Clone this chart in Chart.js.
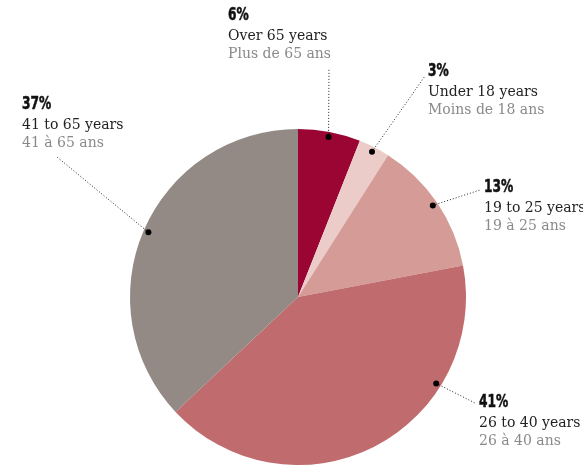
<!DOCTYPE html>
<html>
<head>
<meta charset="utf-8">
<script src="https://cdn.jsdelivr.net/npm/chart.js@4.4.1/dist/chart.umd.min.js"></script>
<style>
  html, body { margin: 0; padding: 0; background: #ffffff; }
  #wrap { width: 583px; height: 467px; position: relative; }
</style>
</head>
<body>
<div id="wrap"><canvas id="pieChart" width="583" height="467"></canvas></div>
<script>
// data
var groups_en = ["Over 65 years", "Under 18 years", "19 to 25 years", "26 to 40 years", "41 to 65 years"];
var groups_fr = ["Plus de 65 ans", "Moins de 18 ans", "19 à 25 ans", "26 à 40 ans", "41 à 65 ans"];
var shares = [6, 3, 13, 41, 37];

// style
var sliceColors = ["#9b0533", "#ecccc8", "#d59b96", "#c06b6d", "#938a85"];
// where the dot sits inside each slice (fraction of its angle) and label layout
var dotFraction = [0.5, 0.5, 0.5, 0.29, 0.5];
var labelBox = [
    {x: 228, y: 16, lx: 329, ly: 68},
    {x: 428, y: 72, lx: 425, ly: 76},
    {x: 484, y: 188, lx: 480, ly: 190},
    {x: 479, y: 403, lx: 475, ly: 403},
    {x: 22, y: 105, lx: 57, ly: 157}
];

var calloutPlugin = {
    id: 'callouts',
    afterDraw: function(chart) {
        var ctx = chart.ctx;
        var arcs = chart.getDatasetMeta(0).data;
        arcs.forEach(function(arc, i) {
            var p = arc.getProps(['x', 'y', 'startAngle', 'endAngle', 'outerRadius'], true);
            var a = p.startAngle + (p.endAngle - p.startAngle) * dotFraction[i];
            var r = p.outerRadius - 5;
            var dx = p.x + Math.cos(a) * r;
            var dy = p.y + Math.sin(a) * r;
            var box = labelBox[i];

            ctx.save();
            ctx.strokeStyle = "#222";
            ctx.lineWidth = 1;
            ctx.setLineDash([1, 2]);
            ctx.beginPath();
            ctx.moveTo(dx, dy);
            ctx.lineTo(box.lx, box.ly);
            ctx.stroke();
            ctx.setLineDash([]);
            ctx.fillStyle = "#000";
            ctx.beginPath();
            ctx.arc(dx, dy, 3, 0, Math.PI * 2);
            ctx.fill();

            // percentage, condensed bold
            ctx.textBaseline = "middle";
            ctx.textAlign = "left";
            ctx.save();
            ctx.translate(box.x, box.y);
            ctx.scale(0.8, 1);
            ctx.font = "bold 17px 'Liberation Sans Narrow', 'DejaVu Sans Condensed', 'DejaVu Sans', sans-serif";
            ctx.fillStyle = "#111";
            ctx.strokeStyle = "#111";
            ctx.lineWidth = 0.5;
            ctx.fillText(shares[i] + "%", 0, 0);
            ctx.strokeText(shares[i] + "%", 0, 0);
            ctx.restore();

            ctx.font = "14px 'DejaVu Serif', 'Liberation Serif', serif";
            ctx.fillStyle = "#222";
            ctx.fillText(groups_en[i], box.x, box.y + 20);
            ctx.fillStyle = "#8a8a8a";
            ctx.fillText(groups_fr[i], box.x, box.y + 38);
            ctx.restore();
        });
    }
};

window.onload = function () {
    var ctx = document.getElementById("pieChart").getContext("2d");
    var myChart = new Chart(ctx, {
        type: 'pie',
        data: {
            labels: groups_en,
            datasets: [{
                data: shares,
                backgroundColor: sliceColors,
                borderWidth: 0
            }]
        },
        options: {
            responsive: false,
            animation: false,
            layout: {padding: {top: 129, bottom: 2, left: 130, right: 117}},
            plugins: {
                legend: {display: false},
                tooltip: {enabled: false}
            }
        },
        plugins: [calloutPlugin]
    });
};
</script>
</body>
</html>
